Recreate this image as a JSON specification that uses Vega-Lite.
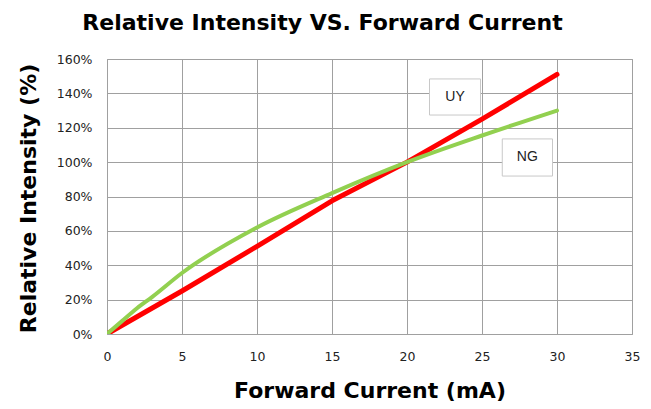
{
  "$schema": "https://vega.github.io/schema/vega-lite/v6.json",
  "width": 525,
  "height": 275,
  "autosize": "none",
  "padding": {"left": 107, "top": 59, "right": 19, "bottom": 75},
  "background": "white",
  "title": {
    "text": "Relative Intensity VS. Forward Current",
    "font": "DejaVu Sans",
    "fontWeight": "bold",
    "fontSize": 22,
    "color": "#000000",
    "anchor": "middle",
    "frame": "group",
    "baseline": "alphabetic",
    "dx": -47,
    "dy": 21,
    "offset": 22
  },
  "config": {
    "view": {"stroke": "#a0a0a0", "strokeWidth": 1},
    "axis": {
      "gridColor": "#a0a0a0",
      "gridOpacity": 1,
      "domain": false,
      "ticks": false,
      "labelOverlap": false,
      "labelFont": "DejaVu Sans",
      "labelFontSize": 12.5,
      "labelColor": "#222222",
      "titleFont": "DejaVu Sans",
      "titleFontWeight": "bold",
      "titleFontSize": 22,
      "titleColor": "#000000"
    }
  },
  "datasets": {
    "curves": [
      {"current": 0, "intensity": 0, "series": "UY"},
      {"current": 5, "intensity": 0.25, "series": "UY"},
      {"current": 10, "intensity": 0.51, "series": "UY"},
      {"current": 15, "intensity": 0.775, "series": "UY"},
      {"current": 20, "intensity": 1.0, "series": "UY"},
      {"current": 25, "intensity": 1.25, "series": "UY"},
      {"current": 30, "intensity": 1.51, "series": "UY"},
      {"current": 0, "intensity": 0, "series": "NG"},
      {"current": 1, "intensity": 0.075, "series": "NG"},
      {"current": 2, "intensity": 0.15, "series": "NG"},
      {"current": 3, "intensity": 0.215, "series": "NG"},
      {"current": 5, "intensity": 0.355, "series": "NG"},
      {"current": 10, "intensity": 0.62, "series": "NG"},
      {"current": 15, "intensity": 0.82, "series": "NG"},
      {"current": 20, "intensity": 1.0, "series": "NG"},
      {"current": 25, "intensity": 1.155, "series": "NG"},
      {"current": 30, "intensity": 1.30, "series": "NG"}
    ],
    "boxes": [
      {"label": "UY", "current": 21.5, "current2": 24.9, "intensity": 1.274, "intensity2": 1.484},
      {"label": "NG", "current": 26.35, "current2": 29.7, "intensity": 0.919, "intensity2": 1.135}
    ],
    "boxtext": [
      {"label": "UY", "current": 23.2, "intensity": 1.379},
      {"label": "NG", "current": 28.02, "intensity": 1.027}
    ]
  },
  "encoding": {
    "x": {
      "field": "current", "type": "quantitative",
      "scale": {"domain": [0, 35], "nice": false},
      "axis": {"values": [0, 5, 10, 15, 20, 25, 30, 35], "labelOverlap": false, "title": "Forward Current (mA)", "labelPadding": 16, "labelFlush": false, "titleX": 262.5, "titleY": 63, "titleBaseline": "alphabetic", "titleAlign": "center"}
    },
    "y": {
      "field": "intensity", "type": "quantitative",
      "scale": {"domain": [0, 1.6], "nice": false},
      "axis": {"values": [0, 0.2, 0.4, 0.6, 0.8, 1.0, 1.2, 1.4, 1.6], "labelOverlap": false, "format": ".0%", "title": "Relative Intensity (%)", "labelPadding": 15, "labelFlush": false, "titleX": -72, "titleY": 139, "titleAngle": -90, "titleBaseline": "alphabetic", "titleAlign": "center"}
    }
  },
  "layer": [
    {
      "data": {"name": "curves"},
      "transform": [{"filter": "datum.series === 'UY'"}],
      "mark": {"type": "line", "color": "#ff0000", "strokeWidth": 5, "strokeCap": "round", "strokeJoin": "round", "clip": true}
    },
    {
      "data": {"name": "curves"},
      "transform": [{"filter": "datum.series === 'NG'"}],
      "mark": {"type": "line", "color": "#92d050", "strokeWidth": 4, "strokeCap": "round", "strokeJoin": "round", "interpolate": "monotone", "clip": true}
    },
    {
      "data": {"name": "boxes"},
      "mark": {"type": "rect", "fill": "white", "stroke": "#c8c8c8", "strokeWidth": 1},
      "encoding": {
        "x2": {"field": "current2"},
        "y2": {"field": "intensity2"}
      }
    },
    {
      "data": {"name": "boxtext"},
      "mark": {"type": "text", "font": "Liberation Sans", "fontSize": 14, "color": "#222222", "align": "center", "baseline": "middle"},
      "encoding": {
        "text": {"field": "label"}
      }
    }
  ]
}
